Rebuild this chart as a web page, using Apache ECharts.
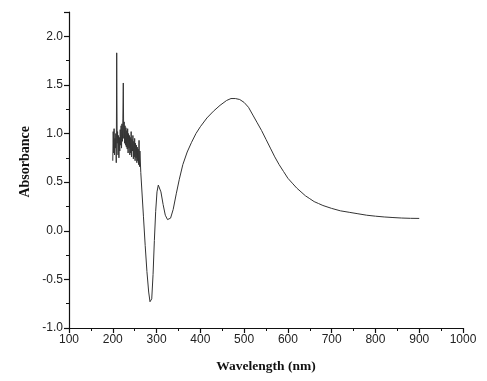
<!DOCTYPE html>
<html>
<head>
<meta charset="utf-8">
<script src="https://cdn.jsdelivr.net/npm/echarts@6/dist/echarts.min.js"></script>
<style>html,body{margin:0;padding:0;background:#fff}#c{width:487px;height:381px}</style>
</head>
<body>
<div id="c"></div>
<script>
const wavelength = [200,201,202,203,204,205,206,207,208,209,210,211,212,213,214,215,216,217,218,219,220,221,222,223,224,225,226,227,228,229,230,231,232,233,234,235,236,237,238,239,240,241,242,243,244,245,246,247,248,249,250,251,252,253,254,255,256,257,258,259,260,261,262,264,266,270,274,278,282,285,287,289,292,295,298,301,304,307,310,315,320,325,328,332,338,345,352,360,370,380,390,400,415,430,445,460,470,480,490,500,510,520,530,540,550,560,570,580,590,600,610,620,630,640,650,660,670,680,700,720,740,760,780,800,820,840,860,880,900];
const absorbance = [0.72,1.02,0.80,1.05,0.78,0.95,0.85,1.00,0.70,1.83,0.90,1.02,0.78,0.98,0.75,0.96,0.82,1.04,0.88,1.08,0.85,1.10,0.92,1.15,1.52,0.95,1.12,0.90,1.08,0.88,1.06,0.86,1.03,0.84,1.05,0.80,1.00,0.85,0.98,0.78,0.96,0.80,1.02,0.76,0.94,0.82,0.98,0.74,0.92,0.76,0.95,0.72,0.90,0.75,0.88,0.70,0.86,0.72,0.84,0.68,0.93,0.66,0.82,0.60,0.45,0.15,-0.15,-0.42,-0.63,-0.73,-0.75,-0.70,-0.45,-0.10,0.20,0.40,0.47,0.46,0.40,0.27,0.16,0.115,0.11,0.13,0.22,0.38,0.53,0.68,0.81,0.91,1.00,1.07,1.16,1.23,1.29,1.34,1.36,1.36,1.35,1.32,1.27,1.19,1.11,1.03,0.94,0.85,0.76,0.68,0.61,0.54,0.49,0.44,0.40,0.36,0.33,0.30,0.28,0.26,0.23,0.205,0.19,0.175,0.16,0.15,0.142,0.136,0.131,0.128,0.127];
const xTitle = "Wavelength (nm)";
const yTitle = "Absorbance";

const chart = echarts.init(document.getElementById('c'), null, {renderer: 'canvas'});
const axisCommon = {
  axisLine: {show: true, onZero: false, lineStyle: {color: '#111', width: 1.2}},
  axisTick: {show: true, inside: false, length: 5, lineStyle: {color: '#111', width: 1.2}},
  minorTick: {show: true, splitNumber: 2, length: 3, lineStyle: {color: '#111', width: 1}},
  splitLine: {show: false},
  axisLabel: {color: '#222', fontFamily: 'Liberation Sans', fontSize: 12, margin: 6}
};
chart.setOption({
  animation: false,
  grid: {left: 69, right: 24, top: 12, bottom: 53, containLabel: false},
  xAxis: Object.assign({}, axisCommon, {
    type: 'value', min: 100, max: 1000, interval: 100,
    axisLabel: Object.assign({}, axisCommon.axisLabel, {formatter: v => String(v)}),
    name: xTitle, nameLocation: 'middle', nameGap: 32,
    nameTextStyle: {fontFamily: 'Liberation Serif', fontWeight: 'bold', fontSize: 13.5, color: '#111'}
  }),
  yAxis: Object.assign({}, axisCommon, {
    type: 'value', min: -1, max: 2.25, interval: 0.5,
    axisLabel: Object.assign({}, axisCommon.axisLabel, {
      showMaxLabel: false,
      formatter: v => (Math.abs(v - Math.round(v * 2) / 2) < 1e-6) ? v.toFixed(1) : ''
    })
  }),
  graphic: [{
    type: 'text', left: 18, top: 126,
    style: {text: yTitle, font: 'bold 14px "Liberation Serif"', fill: '#111'},
    rotation: Math.PI / 2
  }],
  series: [{
    type: 'line', showSymbol: false, smooth: false,
    data: wavelength.map((w, i) => [w, absorbance[i]]),
    lineStyle: {color: '#333', width: 1}
  }]
});
</script>
</body>
</html>
